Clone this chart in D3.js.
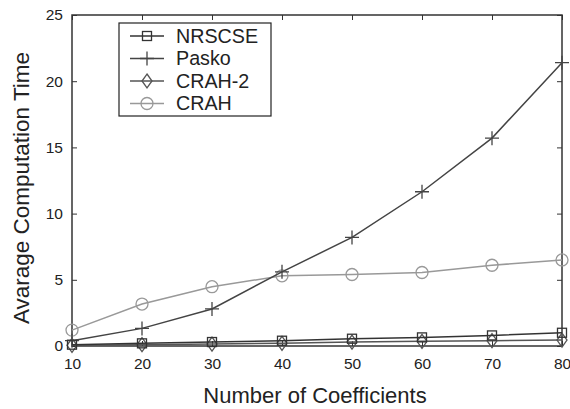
<!DOCTYPE html>
<html>
<head>
<meta charset="utf-8">
<script src="https://cdn.jsdelivr.net/npm/d3@7"></script>
<style>
  body { margin: 0; background: #fff; }
  svg text { font-family: "Liberation Sans", Arial, sans-serif; fill: #222; }
</style>
</head>
<body>
<div id="chart"></div>
<script>
const coefficients = [10, 20, 30, 40, 50, 60, 70, 80];
const nrscse = [0.1, 0.2, 0.3, 0.4, 0.55, 0.65, 0.8, 1.0];
const pasko = [0.4, 1.33, 2.8, 5.6, 8.2, 11.65, 15.7, 21.4];
const crah2 = [0.05, 0.1, 0.15, 0.2, 0.3, 0.35, 0.4, 0.45];
const crah = [1.2, 3.17, 4.48, 5.3, 5.4, 5.55, 6.1, 6.5];
const xTicks = [10, 20, 30, 40, 50, 60, 70, 80];
const yTicks = [0, 5, 10, 15, 20, 25];

const series = [
  { name: 'NRSCSE', values: nrscse, color: '#333', marker: 'square' },
  { name: 'Pasko', values: pasko, color: '#444', marker: 'plus' },
  { name: 'CRAH-2', values: crah2, color: '#555', marker: 'diamond' },
  { name: 'CRAH', values: crah, color: '#999', marker: 'circle' }
];

const width = 570, height = 409;
const margin = { top: 15, right: 8, bottom: 63, left: 72 };
const iw = width - margin.left - margin.right;
const ih = height - margin.top - margin.bottom;

const svg = d3.select('#chart').append('svg')
  .attr('width', width)
  .attr('height', height);
const g = svg.append('g').attr('transform', `translate(${margin.left},${margin.top})`);

const x = d3.scaleLinear().domain([10, 80]).range([0, iw]);
const y = d3.scaleLinear().domain([0, 25]).range([ih, 0]);

// box axes, ticks pointing in
function styleAxis(sel) {
  sel.select('.domain').remove();
  sel.selectAll('.tick line').attr('stroke', '#333');
  sel.selectAll('text').style('font-size', '15.5px').attr('fill', '#222');
}
g.append('g').attr('transform', `translate(0,${ih})`)
  .call(d3.axisBottom(x).tickValues(xTicks).tickSize(-5).tickPadding(12))
  .call(styleAxis);
g.append('g')
  .call(d3.axisTop(x).tickValues(xTicks).tickSize(-5).tickFormat(''))
  .call(styleAxis);
g.append('g')
  .call(d3.axisLeft(y).tickValues(yTicks).tickSize(-5).tickPadding(9))
  .call(styleAxis);
g.append('g').attr('transform', `translate(${iw},0)`)
  .call(d3.axisRight(y).tickValues(yTicks).tickSize(-5).tickFormat(''))
  .call(styleAxis);
g.append('rect').attr('width', iw).attr('height', ih)
  .attr('fill', 'none').attr('stroke', '#333').attr('stroke-width', 1.5);

function drawMarker(sel, type, color) {
  if (type === 'square') {
    sel.append('rect').attr('x', -4.5).attr('y', -4.5).attr('width', 9).attr('height', 9)
      .attr('fill', 'none').attr('stroke', color).attr('stroke-width', 1.3);
  } else if (type === 'plus') {
    sel.append('path').attr('d', 'M-7,0H7M0,-7V7')
      .attr('stroke', color).attr('stroke-width', 1.3);
  } else if (type === 'diamond') {
    sel.append('path').attr('d', 'M0,-7L5,0L0,7L-5,0Z')
      .attr('fill', 'none').attr('stroke', color).attr('stroke-width', 1.3);
  } else {
    sel.append('circle').attr('r', 6)
      .attr('fill', 'none').attr('stroke', color).attr('stroke-width', 1.3);
  }
}

const line = d3.line().x((d, i) => x(coefficients[i])).y(d => y(d));
const drawOrder = [series[3], series[1], series[2], series[0]];
drawOrder.forEach(s => {
  g.append('path').datum(s.values)
    .attr('fill', 'none').attr('stroke', s.color).attr('stroke-width', 1.5)
    .attr('d', line);
  s.values.forEach((v, i) => {
    const m = g.append('g').attr('transform', `translate(${x(coefficients[i])},${y(v)})`);
    drawMarker(m, s.marker, s.color);
  });
});

// legend
const lg = svg.append('g').attr('transform', 'translate(119,23)');
lg.append('rect').attr('width', 152).attr('height', 93)
  .attr('fill', '#fff').attr('stroke', '#222').attr('stroke-width', 1.2);
series.forEach((s, i) => {
  const row = lg.append('g').attr('transform', `translate(0,${13 + i * 22.5})`);
  row.append('line').attr('x1', 11).attr('x2', 45)
    .attr('stroke', s.color).attr('stroke-width', 1.5);
  drawMarker(row.append('g').attr('transform', 'translate(28,0)'), s.marker, s.color);
  row.append('text').attr('x', 57).attr('y', 0).attr('dy', '0.35em')
    .style('font-size', '19.7px').text(s.name);
});

// axis titles
svg.append('text').attr('x', 315).attr('y', 403)
  .attr('text-anchor', 'middle').style('font-size', '22px')
  .text('Number of Coefficients');
svg.append('text')
  .attr('transform', `translate(29,${188}) rotate(-90)`)
  .attr('text-anchor', 'middle').style('font-size', '22.5px')
  .text('Avarage Computation Time');
</script>
</body>
</html>
